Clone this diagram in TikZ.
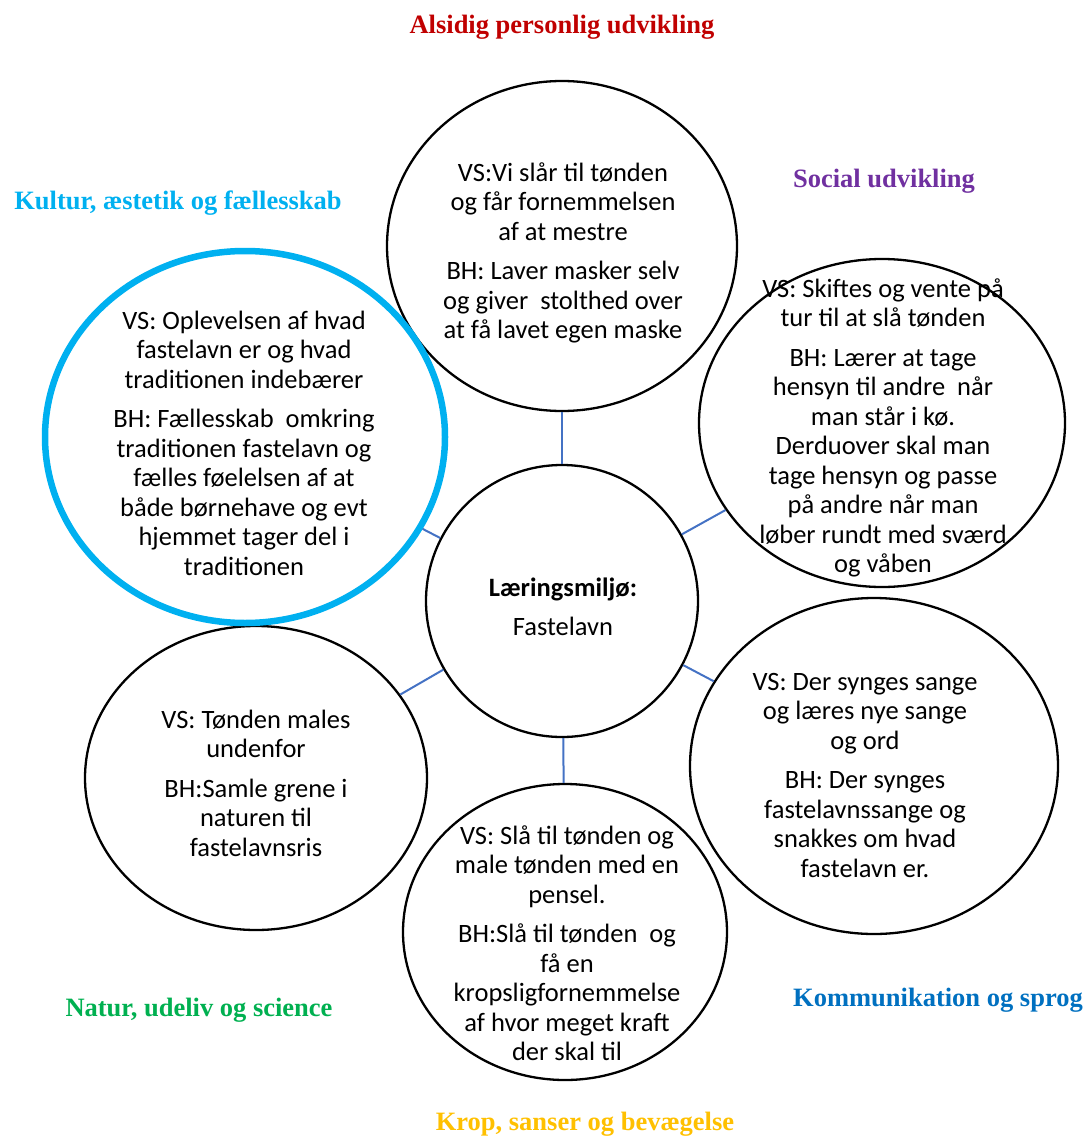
\documentclass[tikz,border=0pt]{standalone}
\usepackage{fontspec}
\setmainfont{Carlito}
\newfontfamily\areafont{Liberation Serif}
\usetikzlibrary{shapes.geometric}
\definecolor{linkblue}{HTML}{4472C4}
\definecolor{kulturblue}{HTML}{00B0F0}
\definecolor{alsidigred}{HTML}{C00000}
\definecolor{socialpurple}{HTML}{7030A0}
\definecolor{naturgreen}{HTML}{00B050}
\definecolor{kommblue}{HTML}{0070C0}
\definecolor{kropyellow}{HTML}{FFC000}
\begin{document}
\begin{tikzpicture}[x=1pt,y=-1pt,
  bubble/.style={ellipse, draw, line width=2.3pt, inner sep=0pt},
  note/.style={align=center, font=\fontsize{26.5}{29.5}\selectfont},
  area/.style={font=\areafont\bfseries\fontsize{26.5}{30}\selectfont},
  link/.style={draw=linkblue, line width=2pt}]
\useasboundingbox (0,0) rectangle (1086,1137);
% the bubbles
\node[bubble, minimum width=272, minimum height=272] (hub) at (562,601){};
\node[bubble, minimum width=350, minimum height=330] (tbub) at (562,246){};
\node[bubble, minimum width=366, minimum height=328] (rbub) at (882,423){};
\node[bubble, minimum width=368, minimum height=336] (lrbub) at (874,766){};
\node[bubble, minimum width=324, minimum height=296] (bbub) at (565,932){};
\node[bubble, minimum width=342, minimum height=304] (llbub) at (256,778){};
\node[bubble, draw=kulturblue, line width=6.5pt, minimum width=400, minimum height=372] (kbub) at (245,437){};
% links from the hub
\draw[link](hub) -- (tbub);
\draw[link](hub) -- (rbub);
\draw[link](hub) -- (lrbub);
\draw[link](hub) -- (bbub);
\draw[link](hub) -- (llbub);
\draw[link](hub) -- (kbub);
% texts
\node[note] (hubtxt) at (563,607){\textbf{Læringsmiljø:}\\[10pt]Fastelavn};
\node[note] (tnote) at (563,253){VS:Vi slår til tønden\\og får fornemmelsen\\af at mestre\\[10pt]BH: Laver masker selv\\og giver\ \ stolthed over\\at få lavet egen maske};
\node[note] (rnote) at (883,428){VS: Skiftes og vente på\\tur til at slå tønden\\[10pt]BH: Lærer at tage\\hensyn til andre\ \ når\\man står i kø.\\Derduover skal man\\tage hensyn og passe\\på andre når man\\løber rundt med sværd\\og våben};
\node[note] (knote) at (244,443){VS: Oplevelsen af hvad\\fastelavn er og hvad\\traditionen indebærer\\[10pt]BH: Fællesskab\ \ omkring\\traditionen fastelavn og\\fælles føelelsen af at\\både børnehave og evt\\hjemmet tager del i\\traditionen};
\node[note] (llnote) at (256,783){VS: Tønden males\\undenfor\\[10pt]BH:Samle grene i\\naturen til\\fastelavnsris};
\node[note] (lrnote) at (865,775){VS: Der synges sange\\og læres nye sange\\og ord\\[10pt]BH: Der synges\\fastelavnssange og\\snakkes om hvad\\fastelavn er.};
\node[note] (bnote) at (567,943){VS: Slå til tønden og\\male tønden med en\\pensel.\\[10pt]BH:Slå til tønden\ \ og\\få en\\kropsligfornemmelse\\af hvor meget kraft\\der skal til};
% the areas
\node[area, text=alsidigred] (alsidig) at (562,27){Alsidig personlig udvikling};
\node[area, text=socialpurple] (social) at (884,181){Social udvikling};
\node[area, text=kulturblue] (kultur) at (178,203){Kultur, æstetik og fællesskab};
\node[area, text=naturgreen] (natur) at (199,1010){Natur, udeliv og science};
\node[area, text=kommblue] (komm) at (938,1000){Kommunikation og sprog};
\node[area, text=kropyellow] (krop) at (585,1124){Krop, sanser og bevægelse};
\end{tikzpicture}
\end{document}
